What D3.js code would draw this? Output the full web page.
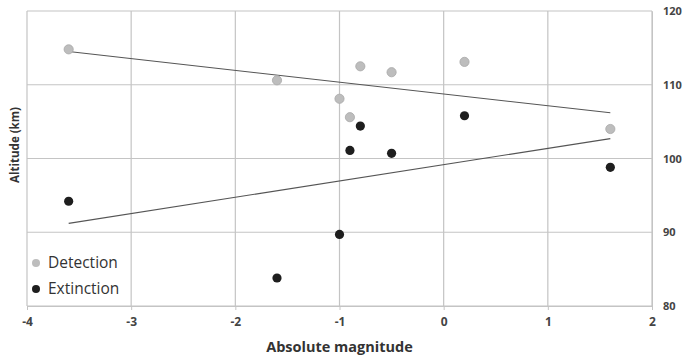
<!DOCTYPE html>
<html><head><meta charset="utf-8">
<script src="https://cdn.jsdelivr.net/npm/d3@7"></script>
<style>body{margin:0;background:#fff}svg{display:block}</style>
</head><body>
<script>
const xTicks = [-4, -3, -2, -1, 0, 1, 2];
const yTicks = [80, 90, 100, 110, 120];
const detectionX = [-3.6, -1.6, -0.8, -0.5, 0.2, -1.0, -0.9, 1.6];
const detectionY = [114.8, 110.6, 112.5, 111.7, 113.1, 108.1, 105.6, 104.0];
const extinctionX = [-0.8, -0.9, -0.5, 0.2, 1.6, -3.6, -1.0, -1.6];
const extinctionY = [104.4, 101.1, 100.7, 105.8, 98.8, 94.2, 89.7, 83.8];
const trendDetX = [-3.6, 1.6];
const trendDetY = [114.5, 106.2];
const trendExtX = [-3.6, 1.6];
const trendExtY = [91.2, 102.7];
const legendLabels = ["Detection", "Extinction"];

const W = 685, H = 358;
const m = {left: 27, right: 33, top: 11, bottom: 52};
const svg = d3.select("body").append("svg").attr("width", W).attr("height", H);
const x = d3.scaleLinear().domain([-4, 2]).range([m.left, W - m.right]);
const y = d3.scaleLinear().domain([80, 120]).range([H - m.bottom, m.top]);
const font = "'Open Sans', sans-serif";
const grid = "#c4c4c4";

// gridlines
svg.append("g").selectAll("line").data(xTicks).join("line")
  .attr("x1", d => x(d)).attr("x2", d => x(d)).attr("y1", y(120)).attr("y2", y(80))
  .attr("stroke", grid).attr("stroke-width", 1.2);
svg.append("g").selectAll("line").data(yTicks).join("line")
  .attr("x1", x(-4)).attr("x2", x(2)).attr("y1", d => y(d)).attr("y2", d => y(d))
  .attr("stroke", grid).attr("stroke-width", 1.2);

// x axis
const xa = svg.append("g").attr("transform", `translate(0,${y(80)})`)
  .call(d3.axisBottom(x).tickValues(xTicks).tickSize(4).tickPadding(7).tickFormat(d3.format("d")));
xa.select(".domain").attr("stroke", grid);
xa.selectAll(".tick line").attr("stroke", grid);
xa.selectAll("text").attr("font-family", font).attr("font-size", 12).attr("font-weight", "bold").attr("fill", "#444")
  .text(d => d < 0 ? "-" + Math.abs(d) : d);

// y axis on right
const ya = svg.append("g").attr("transform", `translate(${x(2)},0)`)
  .call(d3.axisRight(y).tickValues(yTicks).tickSize(0).tickPadding(11));
ya.select(".domain").attr("stroke", grid);
ya.selectAll("text").attr("font-family", font).attr("font-size", 11).attr("font-weight", "bold").attr("fill", "#444");

// trend lines
const line = d3.line().x(d => x(d[0])).y(d => y(d[1]));
svg.append("path").attr("d", line(d3.zip(trendDetX, trendDetY)))
  .attr("fill", "none").attr("stroke", "#555").attr("stroke-width", 1.1);
svg.append("path").attr("d", line(d3.zip(trendExtX, trendExtY)))
  .attr("fill", "none").attr("stroke", "#555").attr("stroke-width", 1.1);

// points
svg.append("g").selectAll("circle").data(d3.zip(detectionX, detectionY)).join("circle")
  .attr("cx", d => x(d[0])).attr("cy", d => y(d[1])).attr("r", 4.6)
  .attr("fill", "#bdbdbd").attr("stroke", "#a8a8a8").attr("stroke-width", 0.8);
svg.append("g").selectAll("circle").data(d3.zip(extinctionX, extinctionY)).join("circle")
  .attr("cx", d => x(d[0])).attr("cy", d => y(d[1])).attr("r", 4.6)
  .attr("fill", "#1e1e1e");

// legend
const legColors = ["#bdbdbd", "#1e1e1e"];
const lg = svg.append("g");
legendLabels.forEach((t, i) => {
  const cy = 263 + i * 26;
  lg.append("circle").attr("cx", 36).attr("cy", cy).attr("r", 4).attr("fill", legColors[i]);
  lg.append("text").attr("x", 48).attr("y", cy).attr("dy", "0.35em")
    .attr("font-family", font).attr("font-size", 15.5).attr("fill", "#333").text(t);
});

// axis titles
svg.append("text").attr("x", x(-1)).attr("y", 352).attr("text-anchor", "middle")
  .attr("font-family", font).attr("font-size", 14.5).attr("font-weight", "bold").attr("fill", "#333")
  .text("Absolute magnitude");
svg.append("text").attr("transform", `translate(19,145) rotate(-90)`).attr("text-anchor", "middle")
  .attr("font-family", font).attr("font-size", 11.5).attr("font-weight", "bold").attr("fill", "#333")
  .text("Altitude (km)");
</script>
</body></html>
